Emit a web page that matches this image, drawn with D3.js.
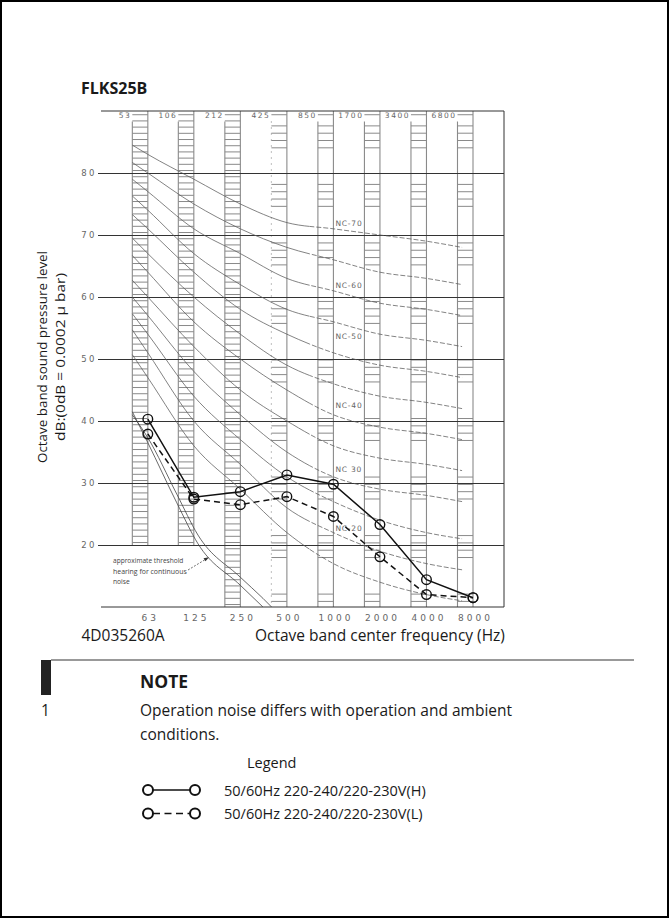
<!DOCTYPE html>
<html>
<head>
<meta charset="utf-8">
<script src="https://cdn.jsdelivr.net/npm/d3@7"></script>
<style>
  body { margin: 0; background: #fff; }
  svg { display: block; }
  .doc { font-family: 'Open Sans', 'Noto Sans', sans-serif; fill: #1a1a1a; }
  .cad { font-family: 'DejaVu Sans', sans-serif; fill: #666; }
</style>
</head>
<body>
<div id="chart"></div>
<script>
// オクターブバンド中心周波数と目盛り
var bands = [63, 125, 250, 500, 1000, 2000, 4000, 8000];
var bandLabels = ['63', '125', '250', '500', '1000', '2000', '4000', '8000'];
var edgeLabels = ['53', '106', '212', '425', '850', '1700', '3400', '6800'];
var yTicks = [20, 30, 40, 50, 60, 70, 80];

// NC曲線 (左端はグラフの描き始め位置の値)
var ncFreqs = [50, 63, 125, 250, 500, 1000, 2000, 4000, 6800];
var nc15 = [50.7, 47, 36, 29, 22, 17, 14, 12, 11];
var nc20 = [54.7, 51, 40, 33, 26, 22, 19, 17, 16];
var nc25 = [57.3, 54, 44, 37, 31, 27, 24, 22, 21];
var nc30 = [60, 57, 48, 41, 35, 31, 29, 28, 27];
var nc35 = [62.7, 60, 52, 45, 40, 36, 34, 33, 32];
var nc40 = [66.7, 64, 56, 50, 45, 41, 39, 38, 37];
var nc45 = [69.5, 67, 60, 54, 49, 46, 44, 43, 42];
var nc50 = [73.3, 71, 64, 58, 54, 51, 49, 48, 47];
var nc55 = [76.3, 74, 67, 62, 58, 56, 54, 53, 52];
var nc60 = [79, 77, 71, 67, 63, 61, 59, 58, 57];
var nc65 = [81.7, 80, 75, 71, 68, 66, 64, 63, 62];
var nc70 = [84.5, 83, 79, 75, 72, 71, 70, 69, 68];
var ncLabels = ['NC-70', 'NC-60', 'NC-50', 'NC-40', 'NC 30', 'NC-20'];
var ncLabelLevels = [72.0, 61.9, 53.7, 42.6, 32.2, 22.7];

// 最小可聴値の曲線 (2本)
var thrAFreqs = [50, 63, 97, 133, 250, 350];
var thrA = [41.5, 36.5, 26.8, 20.2, 13.5, 10];
var thrBFreqs = [50, 63, 97, 133, 250, 350, 398];
var thrB = [41, 37.3, 28.2, 21.6, 14.8, 11.4, 10];

// 測定値
var seriesH = [40.3, 27.7, 28.6, 31.3, 29.8, 23.3, 14.4, 11.5];
var seriesL = [37.9, 27.4, 26.5, 27.8, 24.6, 18.1, 12.0, 11.5];
var legendLabels = ['50/60Hz 220-240/220-230V(H)', '50/60Hz 220-240/220-230V(L)'];

// 領域のサイズ
var width = 669;
var height = 918;
var frame = {left: 101, right: 504, top: 111, bottom: 607};

var svg = d3.select('#chart').append('svg')
  .attr('width', width).attr('height', height);

// ページ枠
svg.append('rect')
  .attr('x', 1).attr('y', 1)
  .attr('width', width - 2).attr('height', height - 2)
  .attr('fill', 'none').attr('stroke', '#000').attr('stroke-width', 2);

var x = d3.scaleLog().base(2).domain([62.5, 8000]).range([147.3, 473]);
var y = d3.scaleLinear().domain([10, 90]).range([frame.bottom, frame.top]);
var third = Math.pow(2, -1 / 3);

// タイトル
svg.append('text').attr('class', 'doc')
  .attr('x', 81).attr('y', 93.5)
  .attr('font-size', 16).attr('font-weight', 'bold')
  .text('FLKS25B');

var chartG = svg.append('g');

// ラダー (各バンドの縦帯)
// 低域3本は1dB刻みで詰まった梯子、それ以降は4本ごとに抜けがある
var stripeG = chartG.append('g');
bands.forEach(function(f, i) {
  var x0 = x(f * third);
  var x1 = x(f);
  var bottomDb = i < 2 ? 20 : 10;
  var g = stripeG.append('g');
  g.append('line')
    .attr('x1', x0).attr('x2', x0)
    .attr('y1', y(88.3)).attr('y2', y(bottomDb))
    .attr('stroke', '#8a8a8a').attr('stroke-width', 1.1)
    .attr('stroke-dasharray', i === 3 ? '1,5' : null);
  g.append('line')
    .attr('x1', x1).attr('x2', x1)
    .attr('y1', frame.top).attr('y2', y(bottomDb))
    .attr('stroke', '#8a8a8a').attr('stroke-width', 1.1);
  var rungs;
  if (i < 3) {
    rungs = d3.range(89.4, bottomDb, -1);
  } else {
    rungs = [89.4].concat(d3.range(87.6, bottomDb, -1.18).filter(function(d, k) {
      return (k % 8) < 4;
    }));
  }
  g.selectAll('line.rung').data(rungs).enter()
    .append('line').attr('class', 'rung')
    .attr('x1', x0).attr('x2', x1)
    .attr('y1', function(d) { return y(d); })
    .attr('y2', function(d) { return y(d); })
    .attr('stroke', '#8a8a8a').attr('stroke-width', 1);
});

// 上端のバンド境界ラベル
chartG.selectAll('text.edge').data(edgeLabels).enter()
  .append('text').attr('class', 'edge cad')
  .attr('x', function(d, i) { return x(bands[i] * third) - 1; })
  .attr('y', frame.top + 7)
  .attr('text-anchor', 'end')
  .attr('font-size', 7.5)
  .attr('letter-spacing', 1.5)
  .text(function(d) { return d; });

// 横グリッドと縦軸ラベル
var yAxis = d3.axisLeft(y)
  .tickValues(yTicks)
  .tickSize(-(frame.right - 98))
  .tickPadding(1)
  .tickFormat(d3.format('d'));
var yAxisG = chartG.append('g')
  .attr('transform', 'translate(98,0)')
  .call(yAxis);
yAxisG.select('.domain').remove();
yAxisG.selectAll('.tick line').attr('stroke', '#333').attr('stroke-width', 1);
yAxisG.selectAll('.tick text')
  .attr('class', 'cad')
  .attr('font-size', 8.5)
  .attr('letter-spacing', 2.5);

// 枠線 (上・右・下)
chartG.append('path')
  .attr('d', 'M' + frame.left + ',' + frame.top + 'H' + frame.right + 'V' + frame.bottom + 'H' + frame.left)
  .attr('fill', 'none').attr('stroke', '#333').attr('stroke-width', 1);

// 横軸ラベル
var xAxis = d3.axisBottom(x)
  .tickValues(bands)
  .tickSize(0)
  .tickPadding(8)
  .tickFormat(function(d, i) { return bandLabels[i]; });
var xAxisG = chartG.append('g')
  .attr('transform', 'translate(2,' + frame.bottom + ')')
  .call(xAxis);
xAxisG.select('.domain').remove();
xAxisG.selectAll('.tick text')
  .attr('class', 'cad')
  .attr('font-size', 9)
  .attr('letter-spacing', 3);

// クリップ
var defs = svg.append('defs');
var splitX = x(700);
defs.append('clipPath').attr('id', 'clipL').append('rect')
  .attr('x', frame.left).attr('y', frame.top)
  .attr('width', splitX - frame.left).attr('height', frame.bottom - frame.top);
defs.append('clipPath').attr('id', 'clipR').append('rect')
  .attr('x', splitX).attr('y', frame.top)
  .attr('width', frame.right - splitX).attr('height', frame.bottom - frame.top);
defs.append('clipPath').attr('id', 'clipAll').append('rect')
  .attr('x', frame.left).attr('y', frame.top)
  .attr('width', frame.right - frame.left).attr('height', frame.bottom - frame.top);

// NC曲線
var ncCurves = [nc15, nc20, nc25, nc30, nc35, nc40, nc45, nc50, nc55, nc60, nc65, nc70];
var ncLine = d3.line()
  .x(function(d, i) { return x(ncFreqs[i]); })
  .y(function(d) { return y(d); })
  .curve(d3.curveMonotoneX);
var ncG = chartG.append('g');
ncG.append('g').attr('clip-path', 'url(#clipL)')
  .selectAll('path').data(ncCurves).enter()
  .append('path')
  .attr('d', ncLine)
  .attr('fill', 'none').attr('stroke', '#5a5a5a').attr('stroke-width', 0.75);
ncG.append('g').attr('clip-path', 'url(#clipR)')
  .selectAll('path').data(ncCurves).enter()
  .append('path')
  .attr('d', ncLine)
  .attr('fill', 'none').attr('stroke', '#5a5a5a').attr('stroke-width', 0.75)
  .attr('stroke-dasharray', '5,2');

ncG.selectAll('text').data(ncLabels).enter()
  .append('text').attr('class', 'cad')
  .attr('x', x(1000) + 2)
  .attr('y', function(d, i) { return y(ncLabelLevels[i]) + 3; })
  .attr('font-size', 7.5)
  .attr('letter-spacing', 0.8)
  .text(function(d) { return d; });

// 最小可聴値
var thrG = chartG.append('g').attr('clip-path', 'url(#clipAll)');
var thrLineA = d3.line()
  .x(function(d, i) { return x(thrAFreqs[i]); })
  .y(function(d) { return y(d); })
  .curve(d3.curveMonotoneX);
var thrLineB = d3.line()
  .x(function(d, i) { return x(thrBFreqs[i]); })
  .y(function(d) { return y(d); })
  .curve(d3.curveMonotoneX);
thrG.append('path').attr('d', thrLineA(thrA))
  .attr('fill', 'none').attr('stroke', '#444').attr('stroke-width', 0.8);
thrG.append('path').attr('d', thrLineB(thrB))
  .attr('fill', 'none').attr('stroke', '#444').attr('stroke-width', 0.8);

var noteLines = ['approximate threshold', 'hearing for continuous', 'noise'];
chartG.append('text')
  .attr('font-family', "'Open Sans', sans-serif")
  .attr('font-size', 7.2).attr('fill', '#444')
  .selectAll('tspan').data(noteLines).enter()
  .append('tspan')
  .attr('x', 113)
  .attr('y', function(d, i) { return 563 + i * 10.5; })
  .attr('textLength', function(d) { return d.length * 3.35; })
  .attr('lengthAdjust', 'spacingAndGlyphs')
  .text(function(d) { return d; });
chartG.append('line')
  .attr('x1', 188).attr('y1', 570).attr('x2', 207).attr('y2', 558.5)
  .attr('stroke', '#333').attr('stroke-width', 0.7).attr('stroke-dasharray', '2,1.5');
chartG.append('path')
  .attr('d', 'M209,557.3 L203.5,558.2 L205.5,561.2 Z')
  .attr('fill', '#333');

// 測定値の折れ線
var seriesLine = d3.line()
  .x(function(d, i) { return x(bands[i]); })
  .y(function(d) { return y(d); });
var dataG = chartG.append('g');
dataG.append('path').attr('d', seriesLine(seriesL))
  .attr('fill', 'none').attr('stroke', '#111').attr('stroke-width', 1.5)
  .attr('stroke-dasharray', '6,4');
dataG.append('path').attr('d', seriesLine(seriesH))
  .attr('fill', 'none').attr('stroke', '#111').attr('stroke-width', 1.5);
[seriesH, seriesL].forEach(function(s) {
  dataG.append('g').selectAll('circle').data(s).enter()
    .append('circle')
    .attr('cx', function(d, i) { return x(bands[i]); })
    .attr('cy', function(d) { return y(d); })
    .attr('r', 4.8)
    .attr('fill', 'none').attr('stroke', '#111').attr('stroke-width', 1.4);
});

// 縦軸タイトル
var yTitle = ['Octave band sound pressure level', 'dB:(0dB = 0.0002 \u03bc bar)'];
var yTitleLength = [212, 168];
svg.selectAll('text.ytitle').data(yTitle).enter()
  .append('text').attr('class', 'ytitle doc')
  .attr('transform', function(d, i) {
    return 'translate(' + (46.5 + i * 18.5) + ',357) rotate(-90)';
  })
  .attr('text-anchor', 'middle')
  .attr('font-size', 13)
  .attr('textLength', function(d, i) { return yTitleLength[i]; })
  .attr('lengthAdjust', 'spacingAndGlyphs')
  .text(function(d) { return d; });

// 図番と横軸タイトル
svg.append('text').attr('class', 'doc')
  .attr('x', 81.5).attr('y', 641).attr('font-size', 15.5)
  .text('4D035260A');
svg.append('text').attr('class', 'doc')
  .attr('x', 255).attr('y', 641).attr('font-size', 15.5)
  .text('Octave band center frequency (Hz)');

// NOTE
svg.append('line')
  .attr('x1', 51).attr('x2', 634).attr('y1', 660).attr('y2', 660)
  .attr('stroke', '#777').attr('stroke-width', 1.6);
svg.append('rect')
  .attr('x', 41).attr('y', 660).attr('width', 10).attr('height', 35)
  .attr('fill', '#222');
svg.append('text').attr('class', 'doc')
  .attr('x', 140).attr('y', 688).attr('font-size', 17.5).attr('font-weight', 'bold')
  .text('NOTE');
svg.append('text').attr('class', 'doc')
  .attr('x', 41).attr('y', 716).attr('font-size', 15.5)
  .text('1');
svg.append('text').attr('class', 'doc')
  .attr('x', 140).attr('y', 716).attr('font-size', 15.5)
  .text('Operation noise differs with operation and ambient');
svg.append('text').attr('class', 'doc')
  .attr('x', 140).attr('y', 740).attr('font-size', 15.5)
  .text('conditions.');
svg.append('text').attr('class', 'doc')
  .attr('x', 247).attr('y', 768).attr('font-size', 14.5)
  .text('Legend');

// 凡例
var legendG = svg.append('g');
legendLabels.forEach(function(label, i) {
  var ly = 790 + i * 23.5;
  legendG.append('line')
    .attr('x1', 153).attr('x2', 190).attr('y1', ly).attr('y2', ly)
    .attr('stroke', '#111').attr('stroke-width', 1.6)
    .attr('stroke-dasharray', i === 1 ? '7,4.5' : null);
  [148, 195].forEach(function(cx) {
    legendG.append('circle')
      .attr('cx', cx).attr('cy', ly).attr('r', 5)
      .attr('fill', '#fff').attr('stroke', '#111').attr('stroke-width', 2);
  });
  legendG.append('text').attr('class', 'doc')
    .attr('x', 224).attr('y', ly + 5.5).attr('font-size', 14.5)
    .text(label);
});
</script>
</body>
</html>
